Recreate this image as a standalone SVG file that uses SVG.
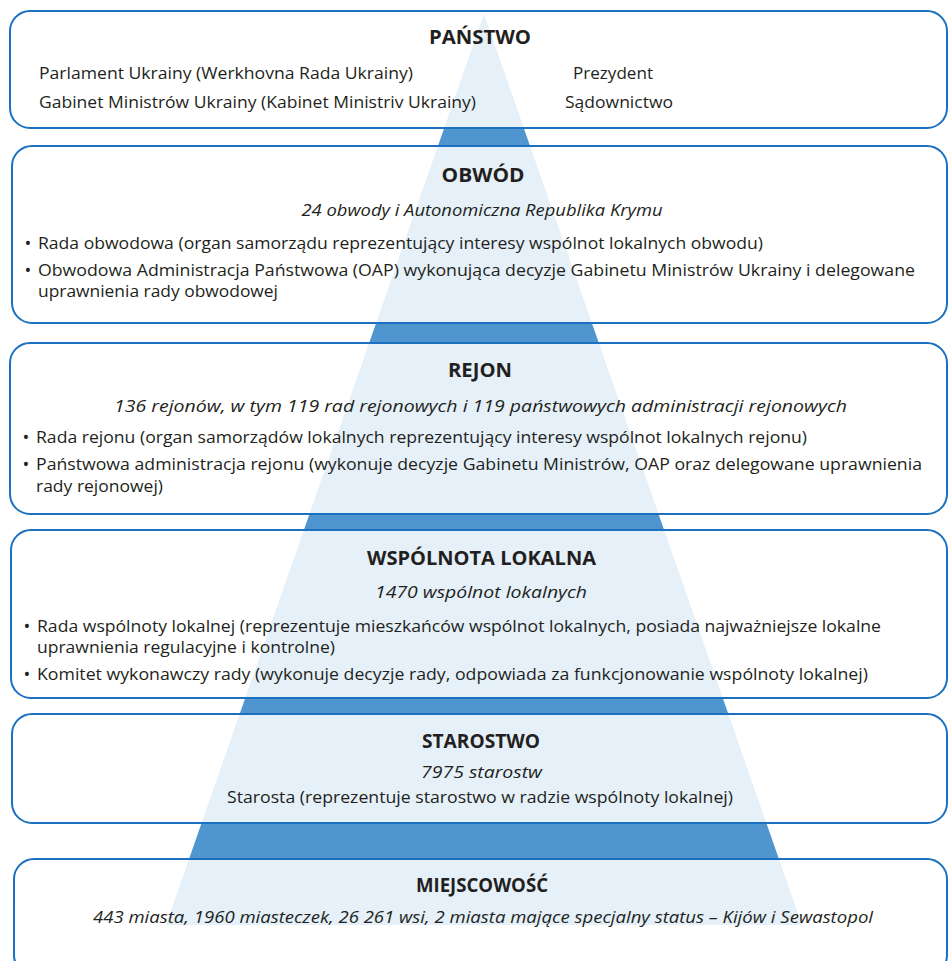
<svg xmlns="http://www.w3.org/2000/svg" width="949" height="961" viewBox="0 0 949 961">
<style>
.box{fill:#ffffff;stroke:none}
.brd{fill:none;stroke:#1b70bf;stroke-width:2}
.lt{fill:#e5f0f9}
.dk{fill:#4f96d1}
text{font-family:"Open Sans","Noto Sans",sans-serif;fill:#231f20;font-size:17px}
.h{font-weight:bold;font-size:19px;text-anchor:middle}
.i{font-style:italic}
.c{text-anchor:middle}
.b{text-anchor:middle;font-size:18px}
</style>
<defs>
<polygon id="tri" points="484,14 166,925 802,925"/>
<clipPath id="c1"><rect x="10" y="11" width="937" height="117" rx="20"/></clipPath>
<clipPath id="c2"><rect x="12" y="146" width="935" height="177" rx="20"/></clipPath>
<clipPath id="c3"><rect x="10" y="343" width="937" height="171" rx="20"/></clipPath>
<clipPath id="c4"><rect x="11" y="530" width="936" height="168" rx="20"/></clipPath>
<clipPath id="c5"><rect x="12" y="714" width="935" height="109" rx="20"/></clipPath>
<clipPath id="c6"><rect x="14" y="859" width="933" height="116" rx="20"/></clipPath>
</defs>
<g id="connectors">
<use href="#tri" class="dk"/>
</g>
<g id="panstwo">
<rect class="box" x="10" y="11" width="937" height="117" rx="20"/>
<use href="#tri" class="lt" clip-path="url(#c1)"/>
<rect class="brd" x="10" y="11" width="937" height="117" rx="20"/>
<text class="h" x="480" y="44" textLength="102" lengthAdjust="spacingAndGlyphs">PAŃSTWO</text>
<text x="39" y="79" textLength="374" lengthAdjust="spacingAndGlyphs">Parlament Ukrainy (Werkhovna Rada Ukrainy)</text>
<text x="573" y="79" textLength="80" lengthAdjust="spacingAndGlyphs">Prezydent</text>
<text x="39" y="108" textLength="437" lengthAdjust="spacingAndGlyphs">Gabinet Ministrów Ukrainy (Kabinet Ministriv Ukrainy)</text>
<text x="565" y="108" textLength="108" lengthAdjust="spacingAndGlyphs">Sądownictwo</text>
</g>
<g id="obwod">
<rect class="box" x="12" y="146" width="935" height="177" rx="20"/>
<use href="#tri" class="lt" clip-path="url(#c2)"/>
<rect class="brd" x="12" y="146" width="935" height="177" rx="20"/>
<text class="h" x="483" y="182" textLength="83" lengthAdjust="spacingAndGlyphs">OBWÓD</text>
<text class="i c" x="482" y="216" textLength="361" lengthAdjust="spacingAndGlyphs">24 obwody i Autonomiczna Republika Krymu</text>
<text class="b" x="28" y="250">•</text>
<text x="38" y="249" textLength="725" lengthAdjust="spacingAndGlyphs">Rada obwodowa (organ samorządu reprezentujący interesy wspólnot lokalnych obwodu)</text>
<text class="b" x="28" y="277">•</text>
<text x="38" y="276" textLength="877" lengthAdjust="spacingAndGlyphs">Obwodowa Administracja Państwowa (OAP) wykonująca decyzje Gabinetu Ministrów Ukrainy i delegowane</text>
<text x="38" y="297" textLength="240" lengthAdjust="spacingAndGlyphs">uprawnienia rady obwodowej</text>
</g>
<g id="rejon">
<rect class="box" x="10" y="343" width="937" height="171" rx="20"/>
<use href="#tri" class="lt" clip-path="url(#c3)"/>
<rect class="brd" x="10" y="343" width="937" height="171" rx="20"/>
<text class="h" x="480" y="377" textLength="64" lengthAdjust="spacingAndGlyphs">REJON</text>
<text class="i" x="114" y="412" textLength="733" lengthAdjust="spacingAndGlyphs">136 rejonów, w tym 119 rad rejonowych i 119 państwowych administracji rejonowych</text>
<text class="b" x="26" y="444">•</text>
<text x="36" y="443" textLength="771" lengthAdjust="spacingAndGlyphs">Rada rejonu (organ samorządów lokalnych reprezentujący interesy wspólnot lokalnych rejonu)</text>
<text class="b" x="26" y="471">•</text>
<text x="36" y="470" textLength="886" lengthAdjust="spacingAndGlyphs">Państwowa administracja rejonu (wykonuje decyzje Gabinetu Ministrów, OAP oraz delegowane uprawnienia</text>
<text x="36" y="492" textLength="127" lengthAdjust="spacingAndGlyphs">rady rejonowej)</text>
</g>
<g id="wspolnota">
<rect class="box" x="11" y="530" width="936" height="168" rx="20"/>
<use href="#tri" class="lt" clip-path="url(#c4)"/>
<rect class="brd" x="11" y="530" width="936" height="168" rx="20"/>
<text class="h" x="481.5" y="565" textLength="229" lengthAdjust="spacingAndGlyphs">WSPÓLNOTA LOKALNA</text>
<text class="i" x="375" y="598" textLength="212" lengthAdjust="spacingAndGlyphs">1470 wspólnot lokalnych</text>
<text class="b" x="27" y="633">•</text>
<text x="37" y="632" textLength="844" lengthAdjust="spacingAndGlyphs">Rada wspólnoty lokalnej (reprezentuje mieszkańców wspólnot lokalnych, posiada najważniejsze lokalne</text>
<text x="37" y="653" textLength="298" lengthAdjust="spacingAndGlyphs">uprawnienia regulacyjne i kontrolne)</text>
<text class="b" x="27" y="681">•</text>
<text x="37" y="680" textLength="831" lengthAdjust="spacingAndGlyphs">Komitet wykonawczy rady (wykonuje decyzje rady, odpowiada za funkcjonowanie wspólnoty lokalnej)</text>
</g>
<g id="starostwo">
<rect class="box" x="12" y="714" width="935" height="109" rx="20"/>
<use href="#tri" class="lt" clip-path="url(#c5)"/>
<rect class="brd" x="12" y="714" width="935" height="109" rx="20"/>
<text class="h" x="481" y="748" textLength="118" lengthAdjust="spacingAndGlyphs">STAROSTWO</text>
<text class="i" x="421" y="778" textLength="121" lengthAdjust="spacingAndGlyphs">7975 starostw</text>
<text x="227" y="803" textLength="506" lengthAdjust="spacingAndGlyphs">Starosta (reprezentuje starostwo w radzie wspólnoty lokalnej)</text>
</g>
<g id="miejscowosc">
<rect class="box" x="14" y="859" width="933" height="116" rx="20"/>
<use href="#tri" class="lt" clip-path="url(#c6)"/>
<rect class="brd" x="14" y="859" width="933" height="116" rx="20"/>
<text class="h" x="482" y="892" textLength="132" lengthAdjust="spacingAndGlyphs">MIEJSCOWOŚĆ</text>
<text class="i" x="93" y="923" textLength="780" lengthAdjust="spacingAndGlyphs">443 miasta, 1960 miasteczek, 26 261 wsi, 2 miasta mające specjalny status – Kijów i Sewastopol</text>
</g>
</svg>
